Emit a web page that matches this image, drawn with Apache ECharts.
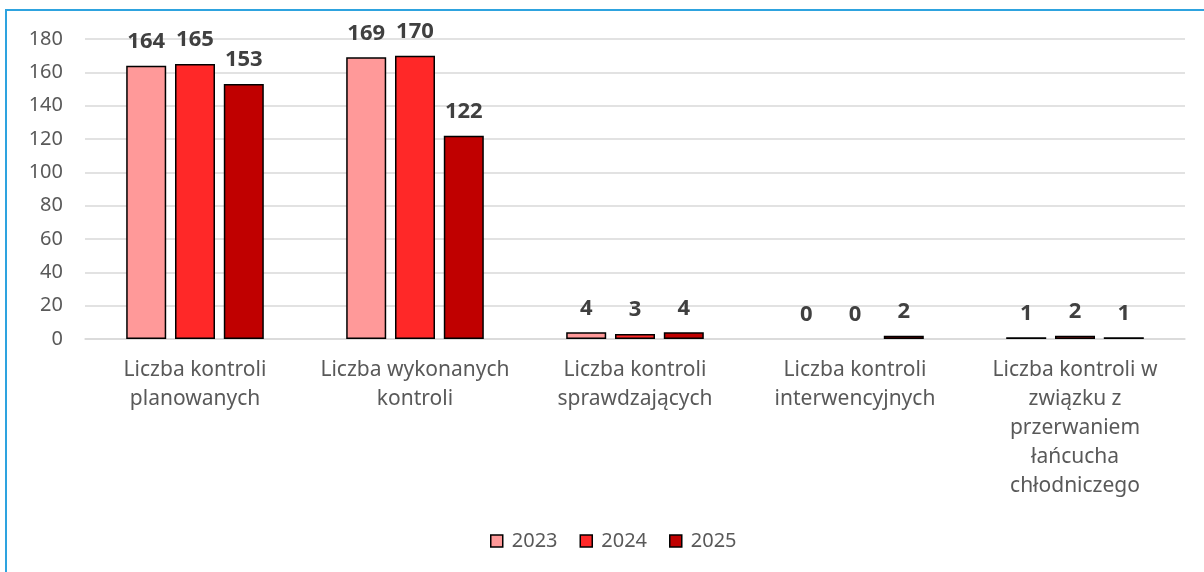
<!DOCTYPE html>
<html>
<head>
<meta charset="utf-8">
<script src="https://cdn.jsdelivr.net/npm/echarts@6/dist/echarts.min.js"></script>
<style>
  html, body { margin: 0; padding: 0; width: 1204px; height: 572px; overflow: hidden; background: #fff; }
  #frame { position: absolute; left: 5px; top: 9px; width: 1400px; height: 800px; border: 2px solid #2ea3df; box-sizing: border-box; }
  #chart { position: absolute; left: 0; top: 0; width: 1204px; height: 572px; }
</style>
</head>
<body>
<div id="frame"></div>
<div id="chart"></div>
<script>
const categories = [
  'Liczba kontroli\nplanowanych',
  'Liczba wykonanych\nkontroli',
  'Liczba kontroli\nsprawdzających',
  'Liczba kontroli\ninterwencyjnych',
  'Liczba kontroli w\nzwiązku z\nprzerwaniem\nłańcucha\nchłodniczego'
]
const years = ['2023', '2024', '2025']
const values2023 = [164, 169, 4, 0, 1]
const values2024 = [165, 170, 3, 0, 2]
const values2025 = [153, 122, 4, 2, 1]
const yearColors = ['#ff9999', '#ff2828', '#c00000']

const font = '"Noto Sans", "DejaVu Sans", sans-serif'

const makeSeries = (name, values, color) => ({
  name,
  type: 'bar',
  barWidth: 40,
  barGap: '22%',
  // zero values show only their label, no outline
  data: values.map(v => v === 0 ? { value: v, itemStyle: { borderWidth: 0 } } : v),
  itemStyle: { color, borderColor: '#000', borderWidth: 1.5 },
  label: {
    show: true,
    position: 'top',
    distance: 13,
    fontFamily: font,
    fontSize: 22,
    fontWeight: 'bold',
    color: '#404040',
  },
})

const chart = echarts.init(document.getElementById('chart'), null, { renderer: 'canvas' })
chart.setOption({
  animation: false,
  backgroundColor: 'transparent',
  grid: { left: 85, right: 19, top: 39, bottom: 233, containLabel: false },
  legend: {
    data: years,
    bottom: 16,
    left: 485,
    icon: 'rect',
    itemWidth: 12,
    itemHeight: 12,
    itemGap: 22,
    textStyle: { fontFamily: font, fontSize: 20, color: '#595959', padding: [0, 0, 0, 4] },
    itemStyle: { borderColor: '#000', borderWidth: 1.5 },
  },
  xAxis: {
    type: 'category',
    data: categories,
    axisLine: { show: true, lineStyle: { color: '#d9d9d9', width: 1.5 } },
    axisTick: { show: false },
    axisLabel: {
      interval: 0,
      margin: 17,
      fontFamily: font,
      fontSize: 21,
      lineHeight: 29,
      color: '#595959',
    },
  },
  yAxis: {
    type: 'value',
    min: 0,
    max: 180,
    interval: 20,
    axisLine: { show: false },
    axisTick: { show: false },
    splitLine: { lineStyle: { color: '#d9d9d9', width: 1.5 } },
    axisLabel: { margin: 22, fontFamily: font, fontSize: 20, color: '#595959' },
  },
  series: [
    makeSeries(years[0], values2023, yearColors[0]),
    makeSeries(years[1], values2024, yearColors[1]),
    makeSeries(years[2], values2025, yearColors[2]),
  ],
})
</script>
</body>
</html>
